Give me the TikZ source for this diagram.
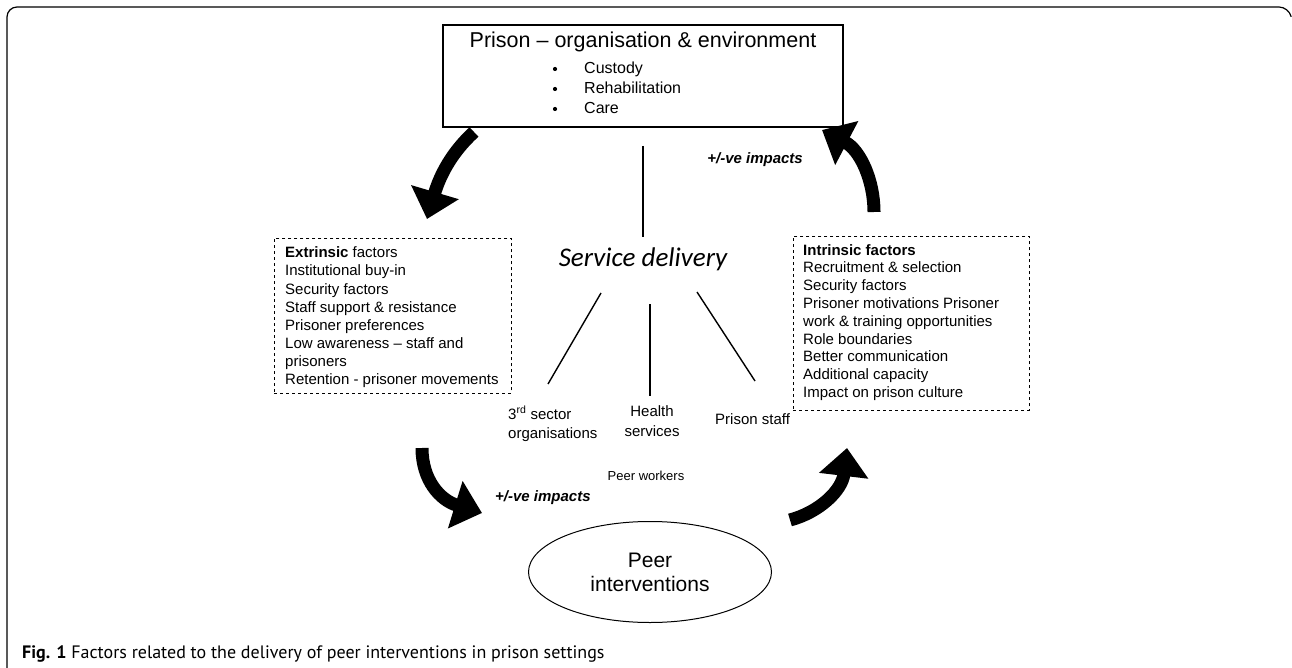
\documentclass[tikz,border=0pt]{standalone}
\usepackage{fontspec}
\setmainfont{Liberation Sans}
\newfontfamily\capfont{PT Sans}
\newfontfamily\servfont{Carlito}
\usetikzlibrary{positioning, arrows.meta, shapes.geometric}

\begin{document}
\begin{tikzpicture}[x=1pt, y=-1pt,
    factorbox/.style={draw, dashed, line width=0.9pt, anchor=north west},
    fatarrow/.style={line width=13pt, -{Triangle[width=48pt, length=28pt]}},
    spoke/.style={line width=1.4pt},
    bodytext/.style={font=\fontsize{15}{18}\selectfont, inner sep=0pt, anchor=base west},
    impact/.style={font=\bfseries\itshape\fontsize{15}{18}\selectfont, inner sep=0pt}]
    \useasboundingbox (0,0) rectangle (1292,668);

    % frame
    \draw[line width=1.2pt, rounded corners=10pt]
        (7,668) -- (7,7) -- (1289,7) -- (1291,16);

    % prison
    \node[draw, line width=1.2pt, minimum width=400pt, minimum height=102pt] (prison) at (643,76) {};
    \node[font=\fontsize{21.5}{24}\selectfont] (title) at (643,42) {Prison – organisation \& environment};
    \foreach \lbl [count=\i] in {Custody, Rehabilitation, Care}
    {
        \fill (555,69+20*\i-20) circle (2.1pt);
        \node[bodytext, font=\fontsize{16}{18}\selectfont] (item\i) at (584,74+20*\i-20) {\lbl};
    }

    % service delivery
    \node[font=\servfont\itshape\fontsize{27}{30}\selectfont] (serv) at (643,259) {Service delivery};
    \coordinate (s0a) at (643,146);
    \coordinate (s0b) at (643,237);
    \coordinate (s1a) at (601,293);
    \coordinate (s1b) at (548,384);
    \coordinate (s2a) at (650,304);
    \coordinate (s2b) at (650,396);
    \coordinate (s3a) at (697,292);
    \coordinate (s3b) at (755,381);
    \foreach \i in {0,...,3}
    {
        \draw[spoke] (s\i a) -- (s\i b);
    }

    \node[bodytext] (third) at (508,419) {3\textsuperscript{rd} sector};
    \node[bodytext] (orgs) at (508,438) {organisations};
    \node[bodytext, anchor=base] (health) at (652,416) {Health};
    \node[bodytext, anchor=base] (servs) at (652,436) {services};
    \node[bodytext] (pstaff) at (715,424) {Prison staff};
    \node[bodytext, anchor=base, font=\fontsize{13}{16}\selectfont] (pwork) at (646,480) {Peer workers};

    % factor boxes
    \node[factorbox, minimum width=237pt, minimum height=155pt] (extbox) at (274,238) {};
    \foreach \lbl [count=\i] in {{\textbf{Extrinsic} factors}, Institutional buy-in,
        Security factors, Staff support \& resistance, Prisoner preferences,
        Low awareness – staff and, prisoners, Retention - prisoner movements}
    {
        \node[bodytext] (ext\i) at (285,258+18*\i-18) {\lbl};
    }

    \node[factorbox, minimum width=236pt, minimum height=174pt] (intbox) at (793,236) {};
    \foreach \lbl [count=\i] in {{\textbf{Intrinsic factors}}, Recruitment \& selection,
        Security factors, Prisoner motivations Prisoner, work \& training opportunities,
        Role boundaries, Better communication, Additional capacity, Impact on prison culture}
    {
        \node[bodytext] (int\i) at (803,255+17.8*\i-17.8) {\lbl};
    }

    % peer interventions
    \node[draw, ellipse, line width=1pt, minimum width=243pt, minimum height=101pt,
        align=center, font=\fontsize{21}{24}\selectfont] (peer) at (650,572) {Peer\\interventions};

    % impacts
    \node[impact, anchor=east] (imptop) at (803,160) {+/-ve impacts};
    \node[impact, anchor=west] (impbot) at (495,498) {+/-ve impacts};

    \draw[fatarrow] (474,132) .. controls (452,152) and (440,175) .. (427,219);
    \draw[fatarrow] (874,212) .. controls (874,180) and (860,150) .. (822,130);
    \draw[fatarrow] (422,448) .. controls (422,480) and (440,500) .. (482,513);
    \draw[fatarrow] (790,520) .. controls (820,512) and (842,490) .. (847,448);

    % caption
    \node[anchor=base west, inner sep=0pt, font=\capfont\fontsize{18}{20}\selectfont] (cap) at (22,658)
        {\textbf{Fig. 1} Factors related to the delivery of peer interventions in prison settings};
\end{tikzpicture}
\end{document}
